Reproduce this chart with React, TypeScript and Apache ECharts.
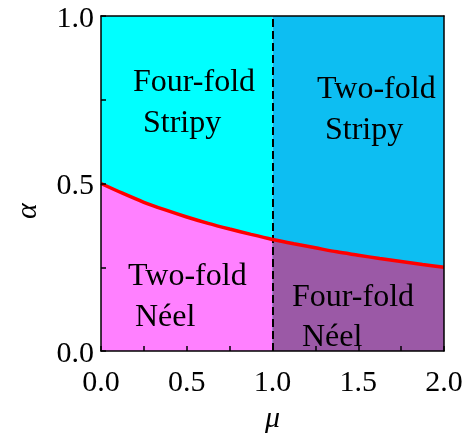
import React, { useEffect, useRef } from "react";
import * as echarts from "echarts";

const muValues = [0, 0.125, 0.25, 0.375, 0.5, 0.625, 0.75, 0.875, 1, 1.125, 1.25, 1.375, 1.5, 1.625, 1.75, 1.875, 2];
const alphaBoundary = [0.5, 0.471, 0.444, 0.421, 0.4, 0.381, 0.364, 0.348, 0.333, 0.32, 0.308, 0.296, 0.286, 0.276, 0.267, 0.258, 0.25];
const stripyTop = [1, 1, 1];
const leftRange = [0, 0.5, 1];
const rightRange = [1, 1.5, 2];
const muSplit = 1;
const xTickLabels = ["0.0", "0.5", "1.0", "1.5", "2.0"];
const yTickLabels = ["0.0", "0.5", "1.0"];
const regionLabels = [
  { text: "Four-fold", x: 133, y: 80 },
  { text: "Stripy", x: 143, y: 121 },
  { text: "Two-fold", x: 317, y: 87 },
  { text: "Stripy", x: 325, y: 128 },
  { text: "Two-fold", x: 128, y: 274 },
  { text: "Néel", x: 135, y: 315 },
  { text: "Four-fold", x: 292, y: 295 },
  { text: "Néel", x: 302, y: 335 },
];

const FONT = "Liberation Serif";

export default function App() {
  const ref = useRef<HTMLDivElement>(null);
  useEffect(() => {
    if (!ref.current) return;
    const chart = echarts.init(ref.current, null, { renderer: "svg" });
    const curve = muValues.map((m, i) => [m, alphaBoundary[i]]);
    const leftCurve = curve.filter((p) => p[0] <= muSplit);
    const rightCurve = curve.filter((p) => p[0] >= muSplit);
    const fmt = (labels: string[]) => (v: number) => {
      const s = v.toFixed(1);
      return labels.includes(s) && Math.abs(v * 2 - Math.round(v * 2)) < 1e-6 ? s : "";
    };
    const axisLineStyle = { color: "#000", width: 1.5 };
    const areaSeries = (data: number[][], color: string, name: string) => ({
      type: "line",
      name,
      data,
      symbol: "none",
      lineStyle: { width: 0 },
      areaStyle: { color, opacity: 1 },
      silent: true,
    });
    chart.setOption({
      animation: false,
      textStyle: { fontFamily: FONT },
      grid: { left: 101, top: 16, width: 343, height: 343 },
      xAxis: [
        {
          type: "value",
          min: 0,
          max: 2,
          interval: 0.25,
          z: 10,
          axisLine: { show: true, lineStyle: axisLineStyle },
          axisTick: { show: true, inside: true, length: 5, lineStyle: axisLineStyle },
          splitLine: { show: false },
          axisLabel: { formatter: fmt(xTickLabels), color: "#000", fontFamily: FONT, fontSize: 30, margin: 14 },
          name: "μ",
          nameLocation: "middle",
          nameGap: 50,
          nameTextStyle: { color: "#000", fontFamily: FONT, fontSize: 30, fontStyle: "italic" },
        },
        {
          type: "value",
          position: "top",
          min: 0,
          max: 2,
          z: 10,
          axisLine: { show: true, onZero: false, lineStyle: axisLineStyle },
          axisTick: { show: false },
          axisLabel: { show: false },
          splitLine: { show: false },
        },
      ],
      yAxis: [
        {
          type: "value",
          min: 0,
          max: 1,
          interval: 0.25,
          z: 10,
          axisLine: { show: true, lineStyle: axisLineStyle },
          axisTick: { show: true, inside: true, length: 5, lineStyle: axisLineStyle },
          splitLine: { show: false },
          axisLabel: { formatter: fmt(yTickLabels), color: "#000", fontFamily: FONT, fontSize: 30, margin: 7 },
        },
        {
          type: "value",
          position: "right",
          min: 0,
          max: 1,
          z: 10,
          axisLine: { show: true, onZero: false, lineStyle: axisLineStyle },
          axisTick: { show: false },
          axisLabel: { show: false },
          splitLine: { show: false },
        },
      ],
      series: [
        areaSeries(leftRange.map((m, i) => [m, stripyTop[i]]), "#00FFFF", "Four-fold Stripy"),
        areaSeries(rightRange.map((m, i) => [m, stripyTop[i]]), "#0DBEF2", "Two-fold Stripy"),
        areaSeries(leftCurve, "#FF80FF", "Two-fold Néel"),
        areaSeries(rightCurve, "#9B59A6", "Four-fold Néel"),
        {
          type: "line",
          name: "boundary",
          data: curve,
          symbol: "none",
          smooth: 0.3,
          lineStyle: { color: "#FF0000", width: 3.5 },
          z: 5,
          markLine: {
            silent: true,
            symbol: "none",
            label: { show: false },
            lineStyle: { color: "#000", width: 2, type: [8, 4] },
            data: [{ xAxis: muSplit }],
          },
        },
      ],
      graphic: [
        ...regionLabels.map((r) => ({
          type: "text",
          x: r.x,
          y: r.y,
          z: 100,
          style: {
            text: r.text,
            fontFamily: FONT,
            fontSize: 32,
            fill: "#000",
            align: "left",
            verticalAlign: "middle",
          },
        })),
        {
          type: "text",
          x: 25,
          y: 211,
          rotation: Math.PI / 2,
          z: 100,
          style: {
            text: "α",
            fontFamily: FONT,
            fontSize: 30,
            fontStyle: "italic",
            fill: "#000",
            align: "center",
            verticalAlign: "middle",
          },
        },
      ],
    });
    return () => chart.dispose();
  }, []);
  return <div ref={ref} style={{ position: "fixed", left: 0, top: 0, width: 471, height: 436 }} />;
}
